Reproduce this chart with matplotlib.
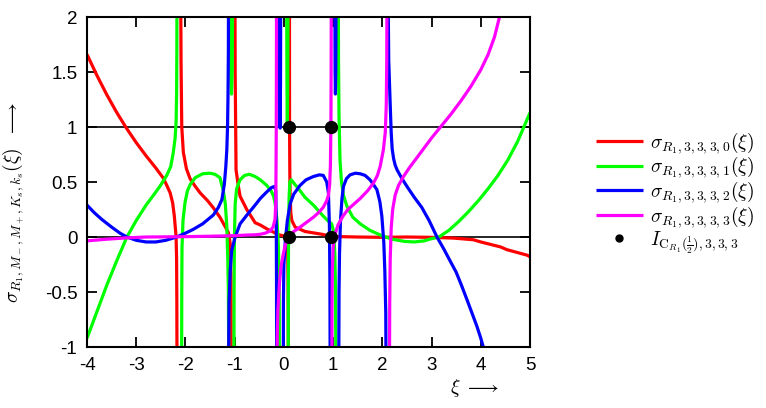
import matplotlib
matplotlib.use('Agg')
import matplotlib.pyplot as plt

# curve data, split at the poles
red_x = [
    [-4.0, -3.8, -3.6, -3.4, -3.2, -3.0, -2.8, -2.6, -2.45, -2.38, -2.31, -2.26, -2.226, -2.205, -2.19, -2.18, -2.175, -2.172],
    [-2.097, -2.09, -2.075, -2.043, -1.98, -1.906, -1.80, -1.70, -1.55, -1.433, -1.30, -1.20, -1.128, -1.09, -1.075, -1.07],
    [-0.995, -0.99, -0.972, -0.925, -0.89, -0.754, -0.585, -0.484, -0.315, -0.213, -0.18, -0.1, 0.0, 0.05, 0.075, 0.085, 0.09],
    [0.113, 0.115, 0.12, 0.126, 0.14, 0.161, 0.228, 0.43, 0.77, 0.97, 1.5, 2.0, 2.5, 3.0, 3.45, 3.85, 4.0, 4.4, 4.53, 4.94, 5.0],
]
red_y = [
    [1.66, 1.47, 1.295, 1.135, 0.99, 0.858, 0.738, 0.626, 0.535, 0.47, 0.40, 0.31, 0.19, 0.08, 0.0, -0.2, -0.6, -1.2],
    [2.3, 1.6, 1.0, 0.77, 0.62, 0.53, 0.46, 0.40, 0.33, 0.265, 0.18, 0.10, 0.04, -0.06, -0.36, -1.2],
    [2.3, 1.5, 0.61, 0.46, 0.37, 0.25, 0.13, 0.11, 0.066, 0.045, 0.036, 0.02, 0.01, -0.02, -0.1, -0.4, -1.2],
    [2.3, 1.0, 0.6, 0.40, 0.22, 0.15, 0.09, 0.05, 0.025, 0.005, 0.0, -0.003, 0.0, -0.003, -0.01, -0.025, -0.045, -0.09, -0.115, -0.165, -0.18],
]

green_x = [
    [-4.0, -3.8, -3.6, -3.4, -3.19, -3.0, -2.8, -2.65, -2.52, -2.45, -2.38, -2.30, -2.25, -2.21, -2.19, -2.18, -2.175, -2.172],
    [-2.078, -2.075, -2.07, -2.05, -2.01, -1.96, -1.90, -1.80, -1.65, -1.50, -1.40, -1.30, -1.23, -1.19, -1.16, -1.14, -1.128, -1.12],
    [-1.09, -1.08, -1.065, -1.05, -1.04],
    [-1.015, -1.012, -1.005, -0.99, -0.96, -0.89, -0.80, -0.70, -0.585, -0.48, -0.35, -0.26, -0.21, -0.179, -0.14, -0.11, -0.095, -0.09],
    [0.055, 0.062, 0.07, 0.078, 0.085],
    [0.088, 0.09, 0.095, 0.105, 0.12, 0.15, 0.22, 0.33, 0.43, 0.6, 0.7, 0.8, 0.9, 0.97, 1.01, 1.035, 1.05, 1.055],
    [1.105, 1.11, 1.12, 1.14, 1.17, 1.21, 1.28, 1.4, 1.55, 1.75, 2.0, 2.2, 2.45, 2.65, 2.85, 3.0, 3.15, 3.35, 3.55, 3.75, 3.95, 4.15, 4.35, 4.55, 4.75, 5.0],
]
green_y = [
    [-0.92, -0.68, -0.44, -0.22, 0.0, 0.15, 0.29, 0.38, 0.46, 0.51, 0.56, 0.64, 0.76, 0.90, 1.05, 1.3, 1.7, 2.3],
    [-1.2, -0.5, -0.1, 0.15, 0.31, 0.42, 0.48, 0.54, 0.575, 0.58, 0.57, 0.54, 0.42, 0.30, 0.10, -0.2, -0.5, -1.2],
    [2.3, 1.5, 1.3, 1.5, 2.3],
    [-1.2, -0.5, 0.0, 0.30, 0.44, 0.52, 0.56, 0.57, 0.55, 0.52, 0.47, 0.42, 0.37, 0.31, 0.15, -0.1, -0.5, -1.2],
    [2.3, 1.4, 1.0, 1.4, 2.3],
    [-1.2, -0.5, 0.0, 0.35, 0.50, 0.52, 0.48, 0.42, 0.36, 0.29, 0.24, 0.19, 0.145, 0.12, 0.05, -0.15, -0.5, -1.2],
    [2.3, 1.6, 1.1, 0.7, 0.5, 0.38, 0.28, 0.18, 0.12, 0.06, 0.01, -0.02, -0.04, -0.045, -0.035, -0.015, 0.0, 0.06, 0.14, 0.23, 0.33, 0.44, 0.56, 0.70, 0.87, 1.13],
]

blue_x = [
    [-4.0, -3.85, -3.7, -3.5, -3.33, -3.19, -3.0, -2.8, -2.6, -2.4, -2.18, -2.0, -1.84, -1.65, -1.433, -1.33, -1.26, -1.21, -1.18, -1.16, -1.145, -1.135, -1.128, -1.125],
    [-1.125, -1.115, -1.09, -1.06, -0.99, -0.89, -0.75, -0.585, -0.48, -0.348, -0.25, -0.19, -0.165, -0.155, -0.15, -0.147],
    [-0.09, -0.085, -0.077, -0.069, -0.064],
    [-0.012, -0.01, 0.0, 0.03, 0.07, 0.126, 0.2, 0.33, 0.45, 0.6, 0.72, 0.80, 0.87, 0.905, 0.925, 0.935, 0.94],
    [1.035, 1.04, 1.047, 1.054, 1.06],
    [1.115, 1.12, 1.13, 1.15, 1.18, 1.21, 1.27, 1.345, 1.45, 1.55, 1.65, 1.75, 1.83, 1.89, 1.95, 1.99, 2.03, 2.05, 2.07, 2.075],
    [2.115, 2.13, 2.16, 2.18, 2.2, 2.23, 2.26, 2.3, 2.4, 2.5, 2.65, 2.8, 2.95, 3.11, 3.25, 3.38, 3.5, 3.6, 3.72, 3.82, 3.92, 4.0, 4.07],
]
blue_y = [
    [0.29, 0.22, 0.16, 0.09, 0.035, 0.0, -0.03, -0.045, -0.045, -0.03, 0.0, 0.035, 0.07, 0.12, 0.20, 0.27, 0.34, 0.48, 0.64, 0.79, 1.0, 1.3, 1.7, 2.3],
    [-1.2, -0.6, -0.3, -0.12, 0.0, 0.12, 0.20, 0.29, 0.35, 0.41, 0.45, 0.46, 0.42, 0.1, -0.4, -1.2],
    [2.3, 1.4, 0.99, 1.4, 2.3],
    [-1.2, -0.6, -0.25, -0.03, 0.15, 0.30, 0.39, 0.47, 0.52, 0.55, 0.565, 0.56, 0.50, 0.40, 0.1, -0.4, -1.2],
    [2.3, 1.5, 1.3, 1.5, 2.3],
    [-1.2, -0.5, -0.15, 0.15, 0.35, 0.46, 0.53, 0.565, 0.58, 0.575, 0.56, 0.52, 0.47, 0.43, 0.32, 0.19, -0.05, -0.3, -0.69, -1.2],
    [2.3, 1.6, 1.2, 0.95, 0.80, 0.71, 0.655, 0.61, 0.53, 0.46, 0.36, 0.27, 0.15, 0.0, -0.11, -0.22, -0.32, -0.43, -0.57, -0.69, -0.81, -0.92, -1.03],
]

magenta_x = [
    [-4.0, -3.6, -3.2, -2.8, -2.0, -1.5, -1.0, -0.75, -0.585, -0.48, -0.38, -0.28, -0.22, -0.18, -0.165, -0.16, -0.155, -0.152, -0.15],
    [-0.14, -0.135, -0.12, -0.09, -0.06, -0.01, 0.03, 0.09, 0.13, 0.2, 0.33, 0.45, 0.6, 0.7, 0.8, 0.87, 0.905, 0.93, 0.945, 0.955, 0.96, 0.963],
    [0.975, 0.978, 0.985, 1.0, 1.02, 1.05, 1.1, 1.2, 1.3, 1.45, 1.55, 1.7, 1.82, 1.9, 1.955, 2.02, 2.06, 2.08, 2.09, 2.095],
    [2.145, 2.15, 2.16, 2.18, 2.21, 2.26, 2.33, 2.43, 2.55, 2.7, 2.85, 3.0, 3.2, 3.4, 3.6, 3.8, 4.0, 4.15, 4.28, 4.38, 4.42],
]
magenta_y = [
    [-0.035, -0.02, -0.008, 0.0, 0.003, 0.007, 0.012, 0.018, 0.02, 0.025, 0.035, 0.055, 0.09, 0.16, 0.3, 0.61, 1.0, 1.5, 2.3],
    [-1.2, -0.9, -0.65, -0.42, -0.27, -0.15, -0.07, -0.01, 0.02, 0.05, 0.09, 0.13, 0.18, 0.22, 0.27, 0.33, 0.38, 0.48, 0.65, 1.0, 1.5, 2.3],
    [-1.2, -0.6, -0.3, -0.1, -0.02, 0.04, 0.11, 0.19, 0.25, 0.31, 0.35, 0.42, 0.49, 0.56, 0.64, 0.79, 0.95, 1.2, 1.6, 2.3],
    [-1.2, -0.6, -0.2, 0.08, 0.25, 0.38, 0.47, 0.55, 0.63, 0.72, 0.81, 0.90, 1.01, 1.12, 1.24, 1.37, 1.52, 1.66, 1.82, 2.0, 2.07],
]

dots_x = [0.11, 0.965, 0.11, 0.965]
dots_y = [1.0, 1.0, 0.0, 0.0]

labels = [r'$\sigma_{R_1,3,3,3,0}(\xi)$', r'$\sigma_{R_1,3,3,3,1}(\xi)$',
          r'$\sigma_{R_1,3,3,3,2}(\xi)$', r'$\sigma_{R_1,3,3,3,3}(\xi)$']
dots_label = r'$I_{\mathrm{C}_{R_1}(\frac{1}{2}),3,3,3}$'

plt.rcParams['font.family'] = ['Liberation Sans', 'DejaVu Sans']
plt.rcParams['mathtext.fontset'] = 'cm'

fig = plt.figure(figsize=(7.66, 4.08), dpi=100)
ax = fig.add_axes([0.1136, 0.1495, 0.5783, 0.8088])

ax.axhline(0, color='black', lw=1.2, zorder=1)
ax.axhline(1, color='black', lw=1.2, zorder=1)

curves = [(red_x, red_y, '#ff0000'), (green_x, green_y, '#00ff00'),
          (blue_x, blue_y, '#0000ff'), (magenta_x, magenta_y, '#ff00ff')]
for (xs, ys, col), lab in zip(curves, labels):
    for i, (sx, sy) in enumerate(zip(xs, ys)):
        ax.plot(sx, sy, color=col, lw=2.3, solid_capstyle='butt',
                label=lab if i == 0 else None, zorder=2)

ax.plot(dots_x, dots_y, 'o', color='black', ms=8.5, ls='none', zorder=3)
ax.plot([], [], 'o', color='black', ms=5, ls='none', label=dots_label)

ax.set_xlim(-4, 5)
ax.set_ylim(-1, 2)
ax.set_xticks(range(-4, 6))
ax.set_yticks([-1, -0.5, 0, 0.5, 1, 1.5, 2])
ax.set_yticklabels(['-1', '-0.5', '0', '0.5', '1', '1.5', '2'])
ax.set_xticklabels([str(v) for v in range(-4, 6)])
ax.tick_params(direction='in', length=7, width=1.3, top=True, right=True,
               labelsize=13.5, pad=7)
for s in ax.spines.values():
    s.set_linewidth(1.5)

fig.text(0.017, 0.505, r'$\sigma_{R_1,M_-,M_+,K_s,k_s}(\xi)$  $\longrightarrow$',
         rotation=90, ha='center', va='center', fontsize=14)
fig.text(0.588, 0.05, r'$\xi$ $\longrightarrow$', ha='left', va='center', fontsize=14)

fig.legend(loc='upper left', bbox_to_anchor=(0.778, 0.682), frameon=False,
           fontsize=14, handlelength=2.4, labelspacing=-0.05, handletextpad=0.4,
           borderpad=0, borderaxespad=0)

fig.savefig('out.png', dpi=100)
